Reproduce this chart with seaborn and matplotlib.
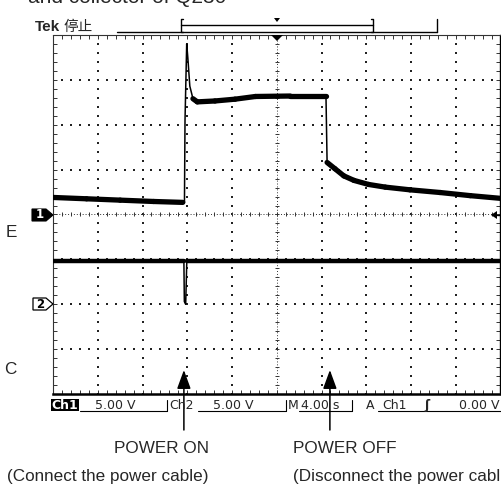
import numpy as np
import pandas as pd
import matplotlib
matplotlib.use("Agg")
import matplotlib.pyplot as plt
import seaborn as sns
from matplotlib.patches import Polygon, Rectangle
from matplotlib.lines import Line2D
from matplotlib.collections import LineCollection

# =========================
# Data
# =========================
# Ch1: E side, volts vs seconds
ch1_time = [0.0, 3.0, 6.0, 9.0, 11.6, 11.75, 11.8, 11.95, 12.05, 12.23,
            12.51, 12.9, 14.48, 16.27, 18.1, 21.2, 24.4, 24.5, 25.2, 26.0,
            26.9, 28.2, 29.7, 31.9, 34.6, 37.3, 40.0]
ch1_volts = [1.9, 1.75, 1.6, 1.45, 1.35, 1.35, 10.5, 19.0, 17.5, 14.3,
             12.9, 12.55, 12.65, 12.85, 13.15, 13.2, 13.2, 5.8, 5.1, 4.3,
             3.8, 3.35, 3.05, 2.75, 2.45, 2.1, 1.8]

# Ch2: C side
ch2_time = [0.0, 11.7, 11.74, 11.86, 11.96, 40.0]
ch2_volts = [4.8, 4.8, 0.3, 0.0, 4.8, 4.8]

# scope settings
volts_per_div = [5.0, 5.0]
ground_div = [0.0, -2.0]
sec_per_div = 4.0
trigger_time = 20.0

# annotation events
event_time = [11.7, 24.75]
event_title = ["POWER ON", "POWER OFF"]
event_note = ["(Connect the power cable)", "(Disconnect the power cable)"]

# status bar texts
status_ch = ["Ch1", "Ch2"]
status_scale = ["5.00 V", "5.00 V"]
status_time = "4.00 s"
status_trig = ["A", "Ch1", "0.00 V"]

# =========================
# Figure setup
# =========================
sns.set_style("white")
plt.rcParams['font.family'] = ['Liberation Sans', 'Noto Sans CJK SC', 'DejaVu Sans']

W, H = 502, 490
fig = plt.figure(figsize=(W / 100, H / 100), dpi=100)
ax = fig.add_axes([53 / W, 1 - 394 / H, 447.5 / W, 359 / H])


def fx(x):
    return x / W


def fy(y):
    return 1 - y / H


def ftext(x, y, s, **kw):
    fig.text(fx(x), fy(y), s, **kw)


def fpoly(pts, **kw):
    fig.add_artist(Polygon([(fx(a), fy(b)) for a, b in pts], closed=True,
                           transform=fig.transFigure, **kw))


def fline(xs, ys, **kw):
    fig.add_artist(Line2D([fx(a) for a in xs], [fy(b) for b in ys],
                          transform=fig.transFigure, **kw))


# =========================
# Graticule
# =========================
ax.set_xlim(0, 10 * sec_per_div)
ax.set_ylim(-4, 4)

minor_x = np.arange(0, 40.01, sec_per_div / 5)
minor_y = np.arange(-4, 4.01, 0.2)

for k in range(1, 10):
    if k == 5:
        continue
    ax.scatter(np.full(len(minor_y), k * sec_per_div), minor_y, marker='s',
               s=1.0, color='#222222', linewidths=0, zorder=1)
for j in [-3, -2, -1, 1, 2, 3]:
    ax.scatter(minor_x, np.full(len(minor_x), j), marker='s',
               s=1.0, color='#222222', linewidths=0, zorder=1)

# center cross with ticks
ax.axhline(0, color='#333333', lw=0.7, ls=(0, (1, 2)), zorder=1)
ax.axvline(trigger_time, color='#333333', lw=0.7, ls=(0, (1, 2)), zorder=1)
ax.plot(minor_x, np.zeros(len(minor_x)), '|', color='#333333', ms=3.5,
        mew=0.7, zorder=1)
ax.plot(np.full(len(minor_y), trigger_time), minor_y, '_', color='#333333',
        ms=3.5, mew=0.7, zorder=1)

ax.set_xticks(np.arange(0, 40.01, sec_per_div))
ax.set_yticks(np.arange(-4, 4.01, 1))
ax.set_xticks(minor_x, minor=True)
ax.set_yticks(minor_y, minor=True)
ax.tick_params(which='both', direction='in', top=True, right=True,
               bottom=True, left=True, labelbottom=False, labelleft=False,
               length=3, width=0.7, color='#333333')
ax.grid(False)
for side in ['top', 'left']:
    ax.spines[side].set_linestyle((0, (1, 1)))
    ax.spines[side].set_linewidth(0.8)
    ax.spines[side].set_color('#333333')
ax.spines['right'].set_linewidth(1.0)
ax.spines['right'].set_color('black')
ax.spines['bottom'].set_linewidth(1.8)
ax.spines['bottom'].set_color('black')

# =========================
# Traces
# =========================
traces = [(ch1_time, ch1_volts), (ch2_time, ch2_volts)]
band_width = [3.8, 3.2]
for i, (t, v) in enumerate(traces):
    df = pd.DataFrame({"time": t, "screen": np.array(v) / volts_per_div[i] + ground_div[i]})
    sns.lineplot(data=df, x="time", y="screen", color="black", lw=1.1,
                 estimator=None, sort=False, ax=ax, zorder=3, legend=False)
    # noise band: flat stretches drawn thick, steep edges stay thin
    xs = df["time"].to_numpy()
    ys = df["screen"].to_numpy()
    segs = []
    for a in range(len(xs) - 1):
        dx_px = abs(xs[a + 1] - xs[a]) * 11.2
        dy_px = abs(ys[a + 1] - ys[a]) * 44.9
        if dy_px < 3 * dx_px and dx_px > 3:
            segs.append([(xs[a], ys[a]), (xs[a + 1], ys[a + 1])])
    ax.add_collection(LineCollection(segs, colors='black', linewidths=band_width[i],
                                     capstyle='round', joinstyle='round', zorder=3))
ax.set_xlim(0, 10 * sec_per_div)
ax.set_ylim(-4, 4)
ax.set_xlabel('')
ax.set_ylabel('')

# =========================
# Scope decorations
# =========================
# clipped caption above
ftext(28, 3, "and collector of Q230", fontsize=15, va='baseline', ha='left')

ftext(35, 27, "Tek", fontsize=11, fontweight='bold', va='center', ha='left')
ftext(63, 27, "停止", fontsize=10.5, va='center', ha='left',
      family=['Noto Sans CJK SC', 'DejaVu Sans'])

# record bar
fline([117, 437], [32, 32], color='black', lw=1.0)
fline([437, 437], [19, 32], color='black', lw=1.0)
fline([181, 373], [25, 25], color='black', lw=1.0)
fline([183, 181, 181, 183], [19, 19, 32, 32], color='black', lw=1.0)
fline([371, 373, 373, 371], [19, 19, 32, 32], color='black', lw=1.0)
fpoly([(274, 18), (280, 18), (277, 22)], color='black', lw=0)

# trigger position marker
fpoly([(271, 35), (283, 35), (277, 41)], color='black', lw=0)

# channel ground markers
fpoly([(32, 209), (46, 209), (53, 215), (46, 221), (32, 221)],
      facecolor='black', edgecolor='black', lw=0.8)
ftext(40, 215, "1", color='white', fontsize=8.5, fontweight='bold',
      ha='center', va='center', family='DejaVu Sans')
fpoly([(33, 298), (46, 298), (53, 304), (46, 310), (33, 310)],
      facecolor='white', edgecolor='black', lw=0.9)
ftext(40.5, 304, "2", color='black', fontsize=8.5, fontweight='bold',
      ha='center', va='center', family='DejaVu Sans')

# trigger level arrow at the right edge
fpoly([(491, 215), (497, 211), (497, 219)], color='black', lw=0)
fline([497, 502], [215, 215], color='black', lw=1.0)

# side labels
ftext(11, 232, "E", fontsize=12.3, ha='center', va='center')
ftext(10, 370, "C", fontsize=12.3, ha='center', va='center')

# status bar
sb_font = dict(fontsize=9, va='center', family='DejaVu Sans')
fig.add_artist(Rectangle((fx(51), fy(411)), fx(28), 12 / H, facecolor='black',
                         edgecolor='none', transform=fig.transFigure))
ftext(65, 405, status_ch[0], color='white', ha='center', fontweight='bold', **sb_font)
ftext(95, 405, status_scale[0], ha='left', **sb_font)
fline([80, 167], [411, 411], color='black', lw=0.8)
fline([167, 167], [400, 411], color='black', lw=0.8)
ftext(169, 405, status_ch[1], ha='left', **sb_font)
fline([198, 285.5], [411, 411], color='black', lw=0.8)
ftext(213, 405, status_scale[1], ha='left', **sb_font)
fline([285.5, 285.5], [400, 411], color='black', lw=0.8)
ftext(288, 405, "M", ha='left', **sb_font)
fline([299, 352], [411, 411], color='black', lw=0.8)
ftext(301, 405, status_time, ha='left', **sb_font)
fline([352, 352], [400, 411], color='black', lw=0.8)
ftext(366, 405, status_trig[0], ha='left', **sb_font)
fline([378, 502], [411, 411], color='black', lw=0.8)
ftext(382, 405, status_trig[1], ha='left', **sb_font)
ftext(424, 405, "ʃ", ha='left', fontsize=9, va='center', family='DejaVu Sans',
      fontweight='bold')
ftext(500, 405, status_trig[2], ha='right', **sb_font)

# event arrows and labels
for t in event_time:
    ax.annotate('', xy=(t, fy(370)), xycoords=('data', 'figure fraction'),
                xytext=(t, fy(430)), textcoords=('data', 'figure fraction'),
                arrowprops=dict(arrowstyle='-|>,head_length=1.15,head_width=0.42',
                                lw=1.1, color='black', shrinkA=0, shrinkB=0,
                                mutation_scale=10),
                annotation_clip=False)

ftext(209, 448, event_title[0], fontsize=12.3, ha='right', va='center')
ftext(209, 476, event_note[0], fontsize=12.3, ha='right', va='center')
ftext(293, 448, event_title[1], fontsize=12.3, ha='left', va='center')
ftext(293, 476, event_note[1], fontsize=12.3, ha='left', va='center')

fig.savefig("out.png", dpi=100)
